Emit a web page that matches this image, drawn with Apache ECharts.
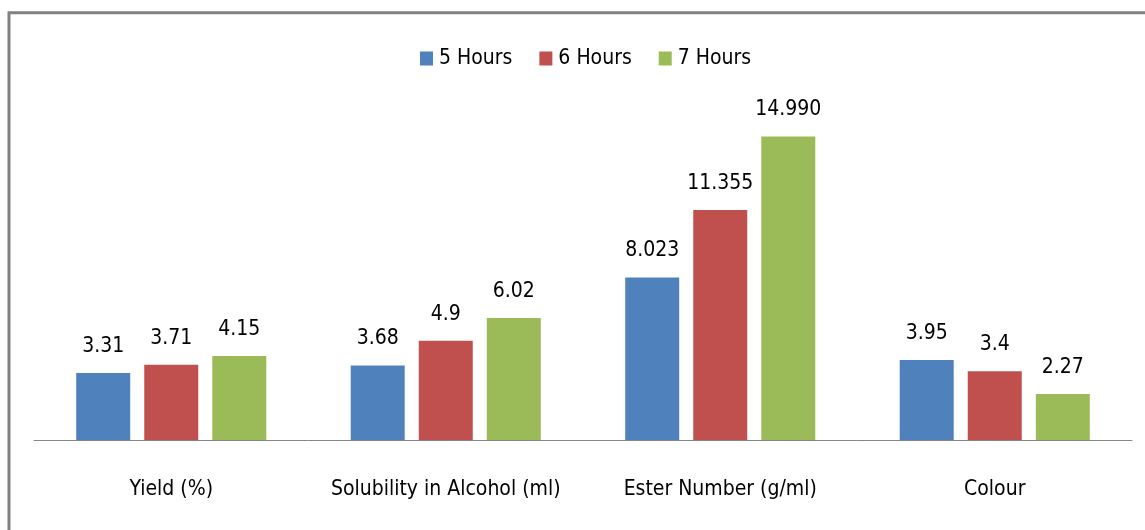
<!DOCTYPE html>
<html>
<head>
<meta charset="utf-8">
<script src="https://cdn.jsdelivr.net/npm/echarts@6/dist/echarts.min.js"></script>
<style>
html,body{margin:0;padding:0;background:#fff;}
#chart{width:1145px;height:530px;}
</style>
</head>
<body>
<div id="chart"></div>
<script>
const categories = ['Yield (%)', 'Solubility in Alcohol (ml)', 'Ester Number (g/ml)', 'Colour'];
const seriesNames = ['5 Hours', '6 Hours', '7 Hours'];
const hours5 = [3.31, 3.68, 8.023, 3.95];
const hours6 = [3.71, 4.9, 11.355, 3.4];
const hours7 = [4.15, 6.02, 14.990, 2.27];
const valueLabels5 = ['3.31', '3.68', '8.023', '3.95'];
const valueLabels6 = ['3.71', '4.9', '11.355', '3.4'];
const valueLabels7 = ['4.15', '6.02', '14.990', '2.27'];

const colors = ['#4F81BD', '#C0504D', '#9BBB59'];
const font = '"DejaVu Sans Condensed", "DejaVu Sans", sans-serif';

function makeSeries(name, data, labels, color) {
  return {
    name: name,
    type: 'bar',
    data: data,
    barWidth: 54,
    barGap: '26%',
    itemStyle: { color: color },
    label: {
      show: true,
      position: 'top',
      distance: 16,
      color: '#000',
      fontFamily: font,
      fontSize: 21,
      formatter: function (p) { return labels[p.dataIndex]; }
    }
  };
}

const chart = echarts.init(document.getElementById('chart'));
chart.setOption({
  animation: false,
  color: colors,
  graphic: [{
    type: 'rect',
    shape: { x: 9, y: 12.7, width: 1150, height: 540 },
    style: { fill: 'none', stroke: '#808080', lineWidth: 3 },
    silent: true,
    z: 100
  }],
  legend: {
    top: 43,
    left: 415,
    itemWidth: 13,
    itemHeight: 14,
    itemGap: 27,
    icon: 'rect',
    textStyle: { fontFamily: font, fontSize: 21, color: '#000', padding: [0, 0, 0, 1] },
    data: seriesNames
  },
  grid: { left: 34, right: 13, top: 116, bottom: 90 },
  xAxis: {
    type: 'category',
    data: categories,
    axisTick: { show: false },
    axisLine: { lineStyle: { color: '#868686', width: 1 } },
    axisLabel: { interval: 0, margin: 39, color: '#000', fontFamily: font, fontSize: 21 }
  },
  yAxis: {
    type: 'value',
    min: 0,
    max: 16,
    show: false
  },
  series: [
    makeSeries(seriesNames[0], hours5, valueLabels5, colors[0]),
    makeSeries(seriesNames[1], hours6, valueLabels6, colors[1]),
    makeSeries(seriesNames[2], hours7, valueLabels7, colors[2])
  ]
});
</script>
</body>
</html>
